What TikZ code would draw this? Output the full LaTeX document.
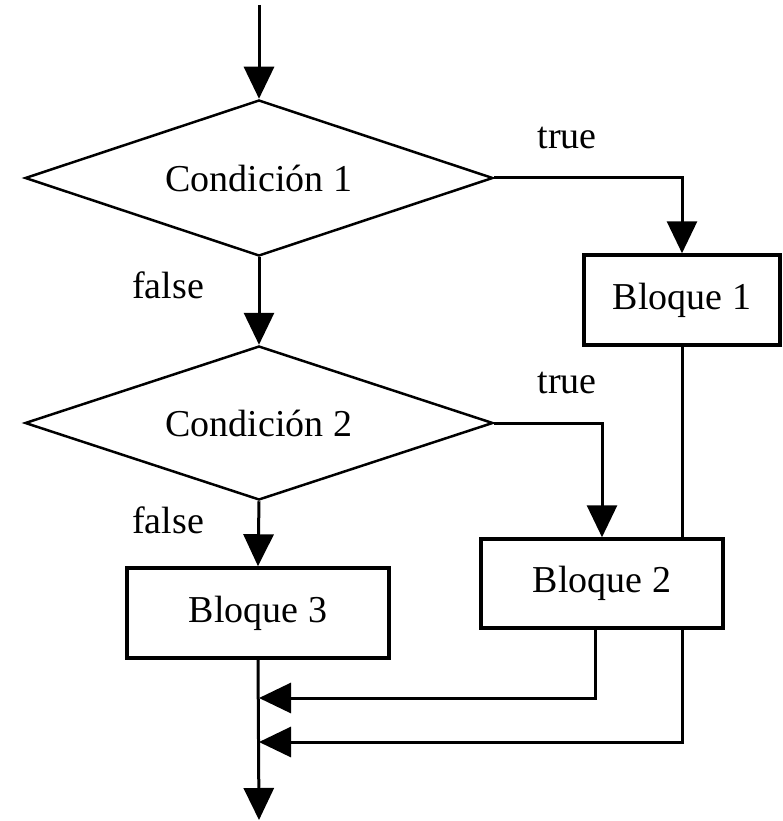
\documentclass[tikz,border=0pt]{standalone}
\usepackage{fontspec}
\setmainfont{Liberation Serif}
\usetikzlibrary{shapes.geometric,arrows.meta}
\tikzset{
  cond/.style={draw, line width=2.5pt, diamond, aspect=3, inner sep=0pt,
    minimum width=468pt, minimum height=156pt, font=\fontsize{38}{40}\selectfont},
  blk/.style={draw, line width=3.5pt, rectangle, inner sep=0pt, font=\fontsize{38}{40}\selectfont},
  lbl/.style={font=\fontsize{38}{40}\selectfont, inner sep=0pt},
  arr/.style={line width=3pt, -{Triangle[length=32pt,width=30pt]}},
  ln/.style={line width=3pt}
}
\begin{document}
\begin{tikzpicture}[x=1pt,y=-1pt]
\useasboundingbox (0,0) rectangle (783,821);
\node[cond] (d1) at (259,178) {Condición 1};
\node[cond, minimum height=154pt] (d2) at (259,423) {Condición 2};
\node[blk, minimum width=196pt, minimum height=90pt] (b1) at (682,300) {Bloque 1};
\node[blk, minimum width=242pt, minimum height=89pt] (b2) at (602,583.5) {Bloque 2};
\node[blk, minimum width=262pt, minimum height=90pt] (b3) at (258,613) {Bloque 3};
\node[lbl] (t1) at (567,138) {true};
\node[lbl] (t2) at (567,383) {true};
\node[lbl] (f1) at (168,285) {false};
\node[lbl] (f2) at (168,520) {false};
\coordinate (start) at (d1.north |- 0,5);
\coordinate (m1) at (d1.south |- 0,698);
\coordinate (m2) at (d1.south |- 0,742);
\coordinate (end) at (d1.south |- 0,820);
\draw[arr] (start) -- (d1.north);
\draw[arr] (d1.east) -| (b1.north);
\draw[arr] (d1.south) -- (d2.north);
\draw[arr] (d2.east) -| (b2.north);
\draw[ln] (b1.south) -- (b1.south |- b2.north);
\draw[arr] (d2.south) -- (b3.north);
\draw[arr] (b3.south) -- (end);
\draw[arr] ([xshift=-7pt]b2.south) |- (m1);
\draw[arr] (b2.south -| b1.south) |- (m2);
\end{tikzpicture}
\end{document}
